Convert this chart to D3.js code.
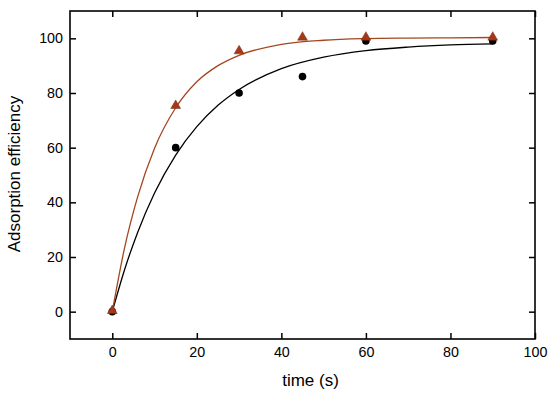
<!DOCTYPE html>
<html><head><meta charset="utf-8">
<script src="https://cdn.jsdelivr.net/npm/d3@7"></script>
<style>body{margin:0;background:#fff}svg{display:block}text{font-family:"Liberation Sans",Arial,sans-serif}</style>
</head><body><svg id="c" width="550" height="398"></svg>
<script>
// Data
const timeS = [0, 15, 30, 45, 60, 90];
const circleEff = [0, 60, 80, 86, 99, 99];
const triangleEff = [0, 75, 95, 100, 100, 100];
// Fitted curves
const fitT = [0, 3, 6, 10, 15, 20, 25, 30, 40, 50, 60, 70, 80, 90];
const fitCircle = [0, 15.8, 29.0, 43.4, 57.3, 67.7, 75.5, 81.3, 88.9, 93.1, 95.5, 96.8, 97.6, 98.0];
const fitTriangle = [0, 24.0, 42.0, 59.8, 74.6, 84.1, 90.0, 93.8, 97.8, 99.3, 99.9, 100.1, 100.2, 100.3];
const xTicks = [0, 20, 40, 60, 80, 100];
const yTicks = [0, 20, 40, 60, 80, 100];

const svg = d3.select("#c");
const L = 70, R = 535, T = 11, B = 339;
const x = d3.scaleLinear().domain([-10, 100]).range([L, R]);
const y = d3.scaleLinear().domain([-10, 110]).range([B, T]);
const tk = 6;

// axes with inward ticks
svg.append("g").attr("transform", `translate(0,${B})`)
  .call(d3.axisBottom(x).tickValues(xTicks).tickSizeInner(-tk).tickSizeOuter(0).tickPadding(8))
  .call(g => { g.select(".domain").remove(); g.selectAll("text").attr("font-size", 14.3).attr("fill", "#000"); g.selectAll("line").attr("stroke-width", 1.5); });
svg.append("g").attr("transform", `translate(0,${T})`)
  .call(d3.axisTop(x).tickValues(xTicks).tickSizeInner(-tk).tickSizeOuter(0).tickFormat(""))
  .call(g => { g.select(".domain").remove(); g.selectAll("line").attr("stroke-width", 1.5); });
svg.append("g").attr("transform", `translate(${L},0)`)
  .call(d3.axisLeft(y).tickValues(yTicks).tickSizeInner(-tk).tickSizeOuter(0).tickPadding(7))
  .call(g => { g.select(".domain").remove(); g.selectAll("text").attr("font-size", 14.3).attr("fill", "#000"); g.selectAll("line").attr("stroke-width", 1.5); });
svg.append("g").attr("transform", `translate(${R},0)`)
  .call(d3.axisRight(y).tickValues(yTicks).tickSizeInner(-tk).tickSizeOuter(0).tickFormat(""))
  .call(g => { g.select(".domain").remove(); g.selectAll("line").attr("stroke-width", 1.5); });

svg.append("rect").attr("x", L).attr("y", T).attr("width", R - L).attr("height", B - T)
  .attr("fill", "none").attr("stroke", "#000").attr("stroke-width", 1.6);

// fits
const line = d3.line().x(d => x(d[0])).y(d => y(d[1])).curve(d3.curveMonotoneX);
svg.append("path").datum(fitT.map((t, i) => [t, fitCircle[i]]))
  .attr("d", line).attr("fill", "none").attr("stroke", "#000").attr("stroke-width", 1.3);
svg.append("path").datum(fitT.map((t, i) => [t, fitTriangle[i]]))
  .attr("d", line).attr("fill", "none").attr("stroke", "#a3461f").attr("stroke-width", 1.3);

// markers
svg.append("g").selectAll("circle").data(timeS).join("circle")
  .attr("cx", d => x(d)).attr("cy", (d, i) => y(circleEff[i])).attr("r", 3.8).attr("fill", "#000");
const tri = d3.symbol().type(d3.symbolTriangle).size(42);
svg.append("g").selectAll("path").data(timeS).join("path")
  .attr("d", tri).attr("transform", (d, i) => `translate(${x(d)},${y(triangleEff[i]) - 1})`)
  .attr("fill", "#a8371a").attr("stroke", "#7a2a10").attr("stroke-width", 0.5);

// labels
svg.append("text").attr("x", 310.5).attr("y", 386).attr("text-anchor", "middle")
  .attr("font-size", 17).text("time (s)");
svg.append("text").attr("transform", `translate(20,${(T + B) / 2 - 1}) rotate(-90)`).attr("text-anchor", "middle")
  .attr("font-size", 17).text("Adsorption efficiency");
</script></body></html>
